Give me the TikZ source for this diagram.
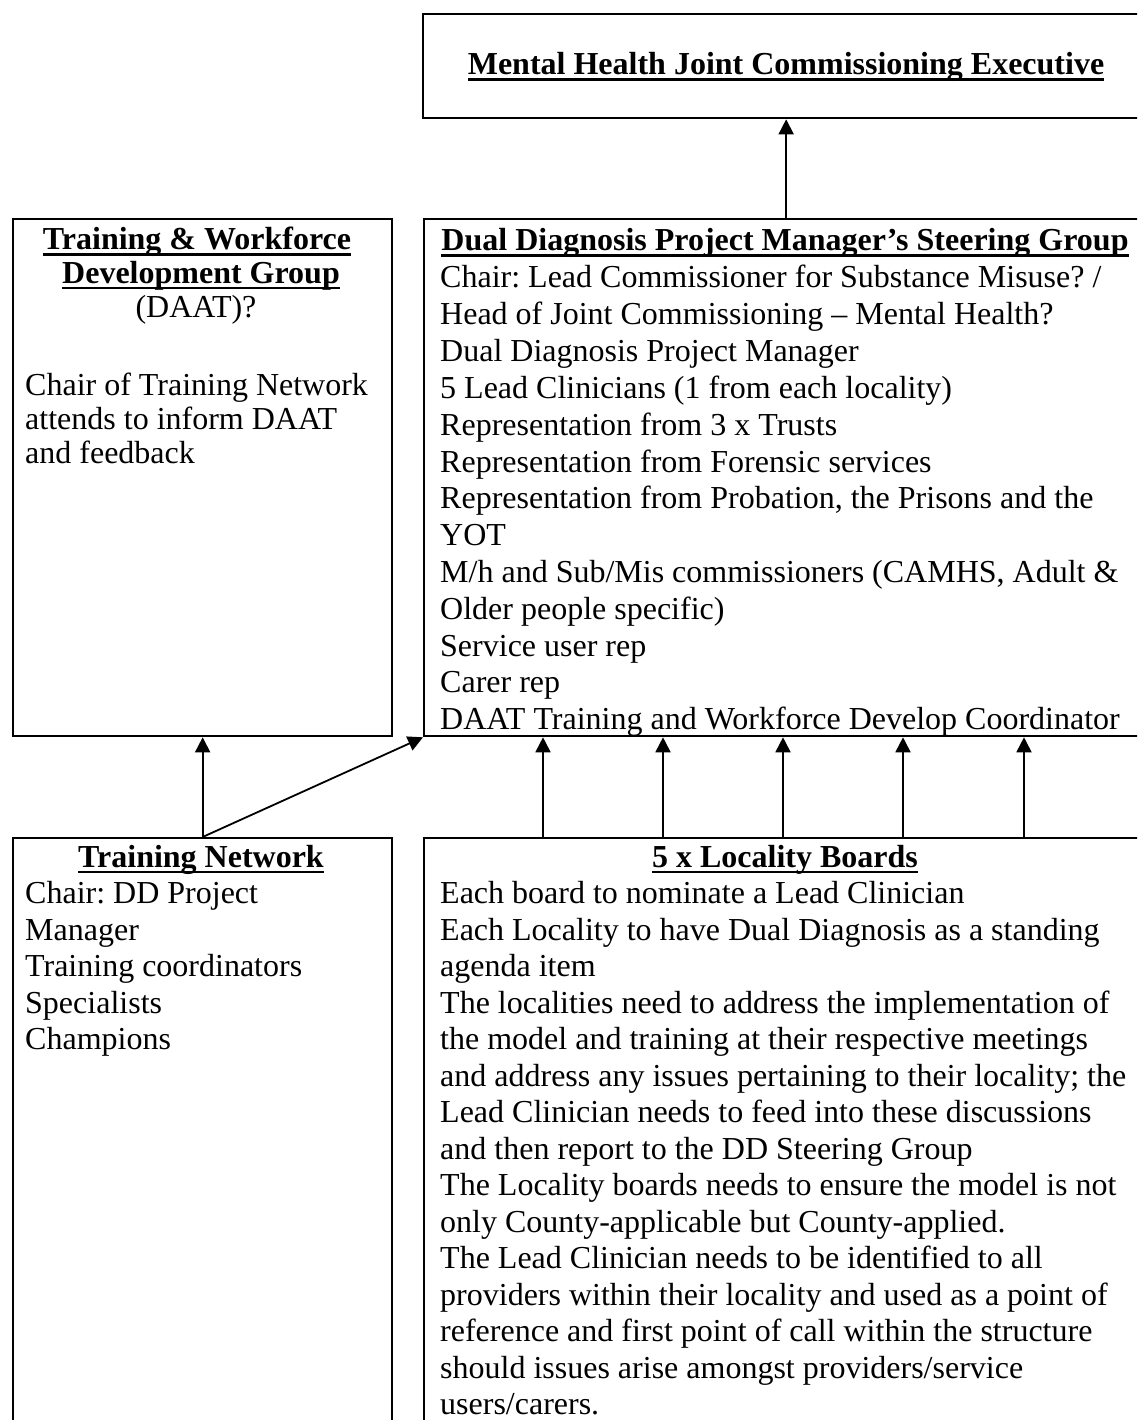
\documentclass[tikz,border=0pt]{standalone}
\usepackage{fontspec}
\setmainfont{Liberation Serif}
\usetikzlibrary{arrows.meta}
\frenchspacing

% bold heading with a Word-style underline at a fixed depth below the baseline
\newcommand{\hul}[1]{\setbox0=\hbox{#1}\rlap{\rule[-6pt]{\wd0}{2.5pt}}\box0}

\begin{document}
\begin{tikzpicture}[x=1pt,y=-1pt,
  box/.style={draw=black,line width=2.3pt,rectangle,inner sep=0pt,anchor=north west},
  head/.style={inner sep=0pt,anchor=base,font=\fontsize{32}{36.8}\selectfont\bfseries},
  plain/.style={inner sep=0pt,anchor=base,font=\fontsize{32}{36.8}\selectfont},
  body/.style={inner sep=0pt,anchor=base west},
  link/.style={line width=1.8pt,-{Triangle[length=15pt,width=15pt]}}]

\useasboundingbox (0,0) rectangle (1137,1420);
\clip (0,0) rectangle (1137,1420);

% ---- boxes (the right column and the lower row run past the page edge)
\node[box,minimum width=726pt,minimum height=104pt] (exec) at (422,13) {};
\node[box,minimum width=724pt,minimum height=517pt] (steer) at (423,218) {};
\node[box,minimum width=379pt,minimum height=517pt] (twdg) at (12,218) {};
\node[box,minimum width=379pt,minimum height=620pt] (tnet) at (12,837) {};
\node[box,minimum width=724pt,minimum height=620pt] (loc) at (423,837) {};

% ---- executive
\node[head] (exechead) at (786,75) {\hul{Mental Health Joint Commissioning Executive}};

% ---- steering group
\node[head] (steerhead) at (785,251) {\hul{Dual Diagnosis Project Manager’s Steering Group}};
\node[body] (steerbody) at (440,288) {\parbox[t]{720pt}{\fontsize{32}{36.8}\selectfont
Chair: Lead Commissioner for Substance Misuse? /\\
Head of Joint Commissioning – Mental Health?\\
Dual Diagnosis Project Manager\\
5 Lead Clinicians (1 from each locality)\\
Representation from 3 x Trusts\\
Representation from Forensic services\\
Representation from Probation, the Prisons and the\\
YOT\\
M/h and Sub/Mis commissioners (CAMHS, Adult \&\\
Older people specific)\\
Service user rep\\
Carer rep\\
DAAT Training and Workforce Develop Coordinator}};

% ---- training & workforce development group
\node[head] (twdghead1) at (197,250) {\hul{Training \& Workforce}};
\node[head] (twdghead2) at (201,283.5) {\hul{Development Group}};
\node[plain] (twdgsub) at (196,317) {(DAAT)?};
\node[body] (twdgbody) at (25,395) {\parbox[t]{370pt}{\fontsize{32}{34}\selectfont
Chair of Training Network\\
attends to inform DAAT\\
and feedback}};

% ---- training network
\node[head] (tnethead) at (201,867) {\hul{Training Network}};
\node[body] (tnetbody) at (25,903.5) {\parbox[t]{370pt}{\fontsize{32}{36.5}\selectfont
Chair: DD Project\\
Manager\\
Training coordinators\\
Specialists\\
Champions}};

% ---- locality boards
\node[head] (lochead) at (785,867) {\hul{5 x Locality Boards}};
\node[body] (locbody) at (440,903.5) {\parbox[t]{720pt}{\fontsize{32}{36.5}\selectfont
Each board to nominate a Lead Clinician\\
Each Locality to have Dual Diagnosis as a standing\\
agenda item\\
The localities need to address the implementation of\\
the model and training at their respective meetings\\
and address any issues pertaining to their locality; the\\
Lead Clinician needs to feed into these discussions\\
and then report to the DD Steering Group\\
The Locality boards needs to ensure the model is not\\
only County-applicable but County-applied.\\
The Lead Clinician needs to be identified to all\\
providers within their locality and used as a point of\\
reference and first point of call within the structure\\
should issues arise amongst providers/service\\
users/carers.}};

% ---- reporting lines
\draw[link] (steer.north) -- (exec.south);
\draw[link] (tnet.north) -- (twdg.south);
\draw[link] (tnet.north) -- (steer.south west);
\foreach \xx in {543,663,783,903,1024}{
  \draw[link] (\xx,0 |- loc.north) -- (\xx,0 |- steer.south);
}
\end{tikzpicture}
\end{document}
